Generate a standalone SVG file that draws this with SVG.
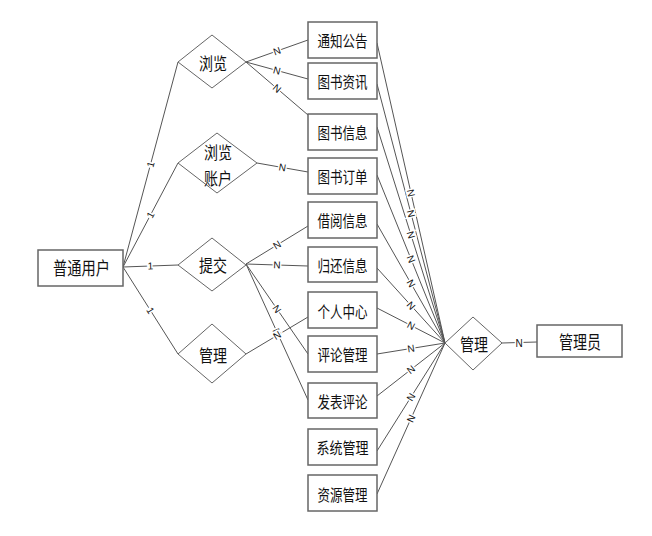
<svg xmlns="http://www.w3.org/2000/svg" width="652" height="536" viewBox="0 0 652 536">
<style>
.box{fill:#fff;stroke:#666;stroke-width:1.5}
.dia{fill:#fff;stroke:#666;stroke-width:1}
.t{font-family:"Noto Sans CJK SC","Noto Sans",sans-serif;fill:#111;text-anchor:middle;dominant-baseline:central}
.ln{stroke:#555;stroke-width:1;fill:none}
.lb{font-family:"Liberation Sans",Arial,sans-serif;font-size:10px;fill:#111;text-anchor:middle;dominant-baseline:central;stroke:#fff;stroke-width:3;paint-order:stroke}
</style>
<rect width="652" height="536" fill="#fff"/>
<g id="connectors">
<path class="ln" d="M123,267L178,62M123,267L178,163M123,267L178,265M123,267L178,354"/>
<path class="ln" d="M246,62L308,40M246,62L308,79M246,62L308,115M257,163L308,172"/>
<path class="ln" d="M246,264L308,226M246,264L308,266M246,264L308,354M246,264L308,400M246,354L308,317"/>
<path class="ln" d="M377,43L445,343M377,84L445,343M377,127L445,343M377,175L445,343M377,224L445,343M377,268L445,343M377,308L445,343M377,354L445,343M377,396L445,343M377,451L445,343M377,494L445,343"/>
<path class="ln" d="M502,343L537,342"/>
<g>
<text class="lb" transform="translate(150.5,164.5) rotate(-75)">1</text>
<text class="lb" transform="translate(150.5,215) rotate(-62)">1</text>
<text class="lb" transform="translate(150.5,266) rotate(-2)">1</text>
<text class="lb" transform="translate(150.5,310.5) rotate(58)">1</text>
<text class="lb" transform="translate(277,51) rotate(-19.5)">N</text>
<text class="lb" transform="translate(277,70.5) rotate(15)">N</text>
<text class="lb" transform="translate(277,88.5) rotate(40.5)">N</text>
<text class="lb" transform="translate(282.5,167.5) rotate(10)">N</text>
<text class="lb" transform="translate(277,245) rotate(-31.5)">N</text>
<text class="lb" transform="translate(277,265) rotate(2)">N</text>
<text class="lb" transform="translate(277,309) rotate(55.4)">N</text>
<text class="lb" transform="translate(277,332) rotate(65.5)">N</text>
<text class="lb" transform="translate(277,335.5) rotate(-30.8)">N</text>
<text class="lb" transform="translate(411,193) rotate(77.2)">N</text>
<text class="lb" transform="translate(411,213.5) rotate(75.3)">N</text>
<text class="lb" transform="translate(411,235) rotate(72.5)">N</text>
<text class="lb" transform="translate(411,259) rotate(68)">N</text>
<text class="lb" transform="translate(411,283.5) rotate(60.3)">N</text>
<text class="lb" transform="translate(411,305.5) rotate(47.8)">N</text>
<text class="lb" transform="translate(411,325.5) rotate(27.2)">N</text>
<text class="lb" transform="translate(411,348.5) rotate(-9.2)">N</text>
<text class="lb" transform="translate(411,369.5) rotate(-37.9)">N</text>
<text class="lb" transform="translate(411,397) rotate(-57.8)">N</text>
<text class="lb" transform="translate(411,418.5) rotate(-65.8)">N</text>
<text class="lb" x="519" y="343">N</text>
</g>
</g>
<g id="user"><rect class="box" x="38" y="250" width="85" height="36"/><text class="t" x="81.5" y="267" font-size="18" textLength="57" lengthAdjust="spacingAndGlyphs">普通用户</text></g>
<g id="rel-browse"><polygon class="dia" points="178,62 212,35 246,62 212,88"/><text class="t" x="213" y="62" font-size="17" textLength="28" lengthAdjust="spacingAndGlyphs">浏览</text></g>
<g id="rel-account"><polygon class="dia" points="178,163 217,133 257,163 217,193"/><text class="t" x="218" y="151" font-size="17" textLength="28" lengthAdjust="spacingAndGlyphs">浏览</text><text class="t" x="218" y="177" font-size="17" textLength="28" lengthAdjust="spacingAndGlyphs">账户</text></g>
<g id="rel-submit"><polygon class="dia" points="178,265 212,238 246,265 212,291"/><text class="t" x="213" y="264" font-size="17" textLength="28" lengthAdjust="spacingAndGlyphs">提交</text></g>
<g id="rel-manage-user"><polygon class="dia" points="178,354 212,324 246,354 212,383"/><text class="t" x="213" y="354" font-size="17" textLength="28" lengthAdjust="spacingAndGlyphs">管理</text></g>
<g id="e1"><rect class="box" x="308" y="22" width="69" height="36"/><text class="t" x="342.5" y="40" font-size="16" textLength="50" lengthAdjust="spacingAndGlyphs">通知公告</text></g>
<g id="e2"><rect class="box" x="308" y="63" width="69" height="36"/><text class="t" x="342.5" y="81" font-size="16" textLength="50" lengthAdjust="spacingAndGlyphs">图书资讯</text></g>
<g id="e3"><rect class="box" x="308" y="114" width="69" height="36"/><text class="t" x="342.5" y="132" font-size="16" textLength="50" lengthAdjust="spacingAndGlyphs">图书信息</text></g>
<g id="e4"><rect class="box" x="308" y="158" width="69" height="36"/><text class="t" x="342.5" y="176" font-size="16" textLength="50" lengthAdjust="spacingAndGlyphs">图书订单</text></g>
<g id="e5"><rect class="box" x="308" y="202" width="69" height="36"/><text class="t" x="342.5" y="220" font-size="16" textLength="50" lengthAdjust="spacingAndGlyphs">借阅信息</text></g>
<g id="e6"><rect class="box" x="308" y="247" width="69" height="35"/><text class="t" x="342.5" y="265" font-size="16" textLength="50" lengthAdjust="spacingAndGlyphs">归还信息</text></g>
<g id="e7"><rect class="box" x="308" y="292" width="69" height="36"/><text class="t" x="342.5" y="311" font-size="16" textLength="50" lengthAdjust="spacingAndGlyphs">个人中心</text></g>
<g id="e8"><rect class="box" x="308" y="336" width="69" height="36"/><text class="t" x="342.5" y="354" font-size="16" textLength="50" lengthAdjust="spacingAndGlyphs">评论管理</text></g>
<g id="e9"><rect class="box" x="308" y="383" width="69" height="35"/><text class="t" x="342.5" y="401" font-size="16" textLength="50" lengthAdjust="spacingAndGlyphs">发表评论</text></g>
<g id="e10"><rect class="box" x="308" y="429" width="69" height="36"/><text class="t" x="342.5" y="447" font-size="16" textLength="52" lengthAdjust="spacingAndGlyphs">系统管理</text></g>
<g id="e11"><rect class="box" x="308" y="475" width="69" height="36"/><text class="t" x="342.5" y="494" font-size="16" textLength="50" lengthAdjust="spacingAndGlyphs">资源管理</text></g>
<g id="rel-manage-admin"><polygon class="dia" points="445,343 473,317 502,343 473,370"/><text class="t" x="474" y="343" font-size="17" textLength="28" lengthAdjust="spacingAndGlyphs">管理</text></g>
<g id="admin"><rect class="box" x="537" y="325" width="85" height="32"/><text class="t" x="580" y="341" font-size="18" textLength="42" lengthAdjust="spacingAndGlyphs">管理员</text></g>
</svg>
